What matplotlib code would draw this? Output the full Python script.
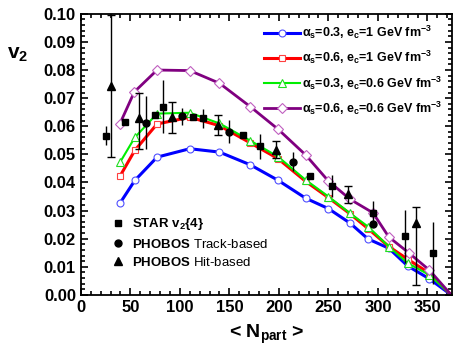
import numpy as np
import matplotlib
matplotlib.use('Agg')
import matplotlib.pyplot as plt
from matplotlib.ticker import MultipleLocator

plt.rcParams['font.family'] = ['Liberation Sans', 'DejaVu Sans']
plt.rcParams['mathtext.fontset'] = 'custom'
plt.rcParams['mathtext.rm'] = 'Liberation Sans:bold'
plt.rcParams['mathtext.it'] = 'Liberation Sans:bold'
plt.rcParams['mathtext.bf'] = 'Liberation Sans:bold'

# theory curves
npart_th = [39.5, 54.5, 77, 110, 140, 171, 199, 227, 250, 272, 290, 311, 330, 352, 374]
v2_a03_e1 = [0.0326, 0.0407, 0.0490, 0.0520, 0.0508, 0.0463, 0.0408, 0.0344, 0.0307, 0.0255, 0.0199, 0.0166, 0.0103, 0.0057, 0.0]
v2_a06_e1 = [0.0422, 0.0514, 0.0608, 0.0632, 0.0602, 0.0541, 0.0485, 0.0404, 0.0346, 0.0288, 0.0236, 0.0172, 0.0127, 0.0077, 0.0]
v2_a03_e06 = [0.0471, 0.0560, 0.0645, 0.0648, 0.0610, 0.0549, 0.0492, 0.0409, 0.0350, 0.0290, 0.0243, 0.0172, 0.0113, 0.0071, 0.0]
npart_th2 = [39.5, 54, 77, 110, 140, 171, 199, 227, 250, 272, 295, 311, 331, 352, 374]
v2_a06_e06 = [0.0609, 0.0722, 0.0800, 0.0798, 0.0753, 0.0670, 0.0590, 0.0498, 0.0405, 0.0340, 0.0292, 0.0206, 0.0150, 0.0088, 0.0]

# data
npart_star = [25, 45, 75, 82.5, 113, 123, 164, 181, 231, 254, 295, 327, 356]
v2_star = [0.0566, 0.0615, 0.0640, 0.0670, 0.0632, 0.0628, 0.0570, 0.0528, 0.0423, 0.0388, 0.0293, 0.0208, 0.0148]
err_star = [0.0034, 0.001, 0.001, 0.0095, 0.001, 0.0035, 0.001, 0.0045, 0.001, 0.004, 0.004, 0.0095, 0.011]

npart_trk = [66, 102, 150, 214, 295]
v2_trk = [0.0613, 0.0635, 0.0581, 0.0474, 0.0253]
err_trk = [0.0095, 0.003, 0.004, 0.0035, 0.001]

npart_hit = [30, 59, 92, 139, 197, 270, 338]
v2_hit = [0.0744, 0.0630, 0.0632, 0.0605, 0.0516, 0.0358, 0.0255]
err_hit_lo = [0.0255, 0.011, 0.0055, 0.0036, 0.003, 0.003, 0.022]
err_hit_hi = [0.0252, 0.009, 0.0055, 0.0036, 0.003, 0.003, 0.0057]

fig = plt.figure(figsize=(4.54, 3.54), dpi=100)
ax = fig.add_axes([0.178, 0.167, 0.818, 0.794])

mk = slice(0, -1)
l1, = ax.plot(npart_th, v2_a03_e1, color='#0000ff', lw=2.2, marker='o', ms=5,
              mfc='white', mec='#5050ff', mew=0.8, markevery=mk,
              label=r'$\alpha_s$=0.3, $e_c$=1 GeV fm$^{-3}$')
l2, = ax.plot(npart_th, v2_a06_e1, color='#ff0000', lw=2.2, marker='s', ms=5,
              mfc='white', mec='#ff4040', mew=0.8, markevery=mk,
              label=r'$\alpha_s$=0.6, $e_c$=1 GeV fm$^{-3}$')
l3, = ax.plot(npart_th, v2_a03_e06, color='#00ee00', lw=1.5, marker='^', ms=6,
              mfc='white', mec='#20dd20', mew=0.8, markevery=mk,
              label=r'$\alpha_s$=0.3, $e_c$=0.6 GeV fm$^{-3}$')
l4, = ax.plot(npart_th2, v2_a06_e06, color='#800080', lw=2.0, marker='D', ms=5,
              mfc='white', mec='#c060c0', mew=0.8, markevery=mk,
              label=r'$\alpha_s$=0.6, $e_c$=0.6 GeV fm$^{-3}$')

e1 = ax.errorbar(npart_star, v2_star, yerr=err_star, fmt='s', color='black', ms=5,
                 elinewidth=1, capsize=0, zorder=5, label=r'STAR v$_2${4}')
e2 = ax.errorbar(npart_trk, v2_trk, yerr=err_trk, fmt='o', color='black', ms=5,
                 elinewidth=1, capsize=0, zorder=5, label=r'$\mathrm{PHOBOS}$ Track-based')
e3 = ax.errorbar(npart_hit, v2_hit, yerr=[err_hit_lo, err_hit_hi], fmt='^', color='black', ms=6,
                 elinewidth=1, capsize=3, capthick=1, zorder=5, label=r'$\mathrm{PHOBOS}$ Hit-based')

ax.set_xlim(0, 375)
ax.set_ylim(0, 0.10)
ax.xaxis.set_major_locator(MultipleLocator(50))
ax.xaxis.set_minor_locator(MultipleLocator(10))
ax.yaxis.set_major_locator(MultipleLocator(0.01))
ax.yaxis.set_minor_locator(MultipleLocator(0.002))
ax.yaxis.set_major_formatter(matplotlib.ticker.FormatStrFormatter('%.2f'))
ax.tick_params(which='both', direction='in', top=True, right=True, width=1.2)
ax.tick_params(which='major', length=5, labelsize=12)
ax.tick_params(which='minor', length=3)
for lab in ax.get_xticklabels() + ax.get_yticklabels():
    lab.set_fontweight('bold')
for sp in ax.spines.values():
    sp.set_linewidth(1.3)

ax.set_xlabel(r'< N$_{\mathrm{part}}$ >', fontsize=14, fontweight='bold', labelpad=6)
ax.set_ylabel(r'v$_2$', fontsize=15, fontweight='bold', rotation=0)
ax.yaxis.set_label_coords(-0.17, 0.82)

leg1 = ax.legend(handles=[l1, l2, l3, l4], loc='upper right', bbox_to_anchor=(0.995, 0.99),
                 frameon=False, prop={'weight': 'bold', 'size': 9},
                 handlelength=2.9, handletextpad=0.2, labelspacing=0.62, borderaxespad=0.2)
ax.add_artist(leg1)
leg2 = ax.legend(handles=[e1[0], e2[0], e3[0]], labels=[r'STAR v$_2${4}', r'$\mathrm{PHOBOS}$ Track-based',
                 r'$\mathrm{PHOBOS}$ Hit-based'], loc='lower left', bbox_to_anchor=(0.05, 0.05),
                 frameon=False, prop={'size': 9.5}, handlelength=1.0, handletextpad=0.6,
                 labelspacing=0.4)
leg2.get_texts()[0].set_fontweight('bold')

fig.savefig('out.png', dpi=100)
